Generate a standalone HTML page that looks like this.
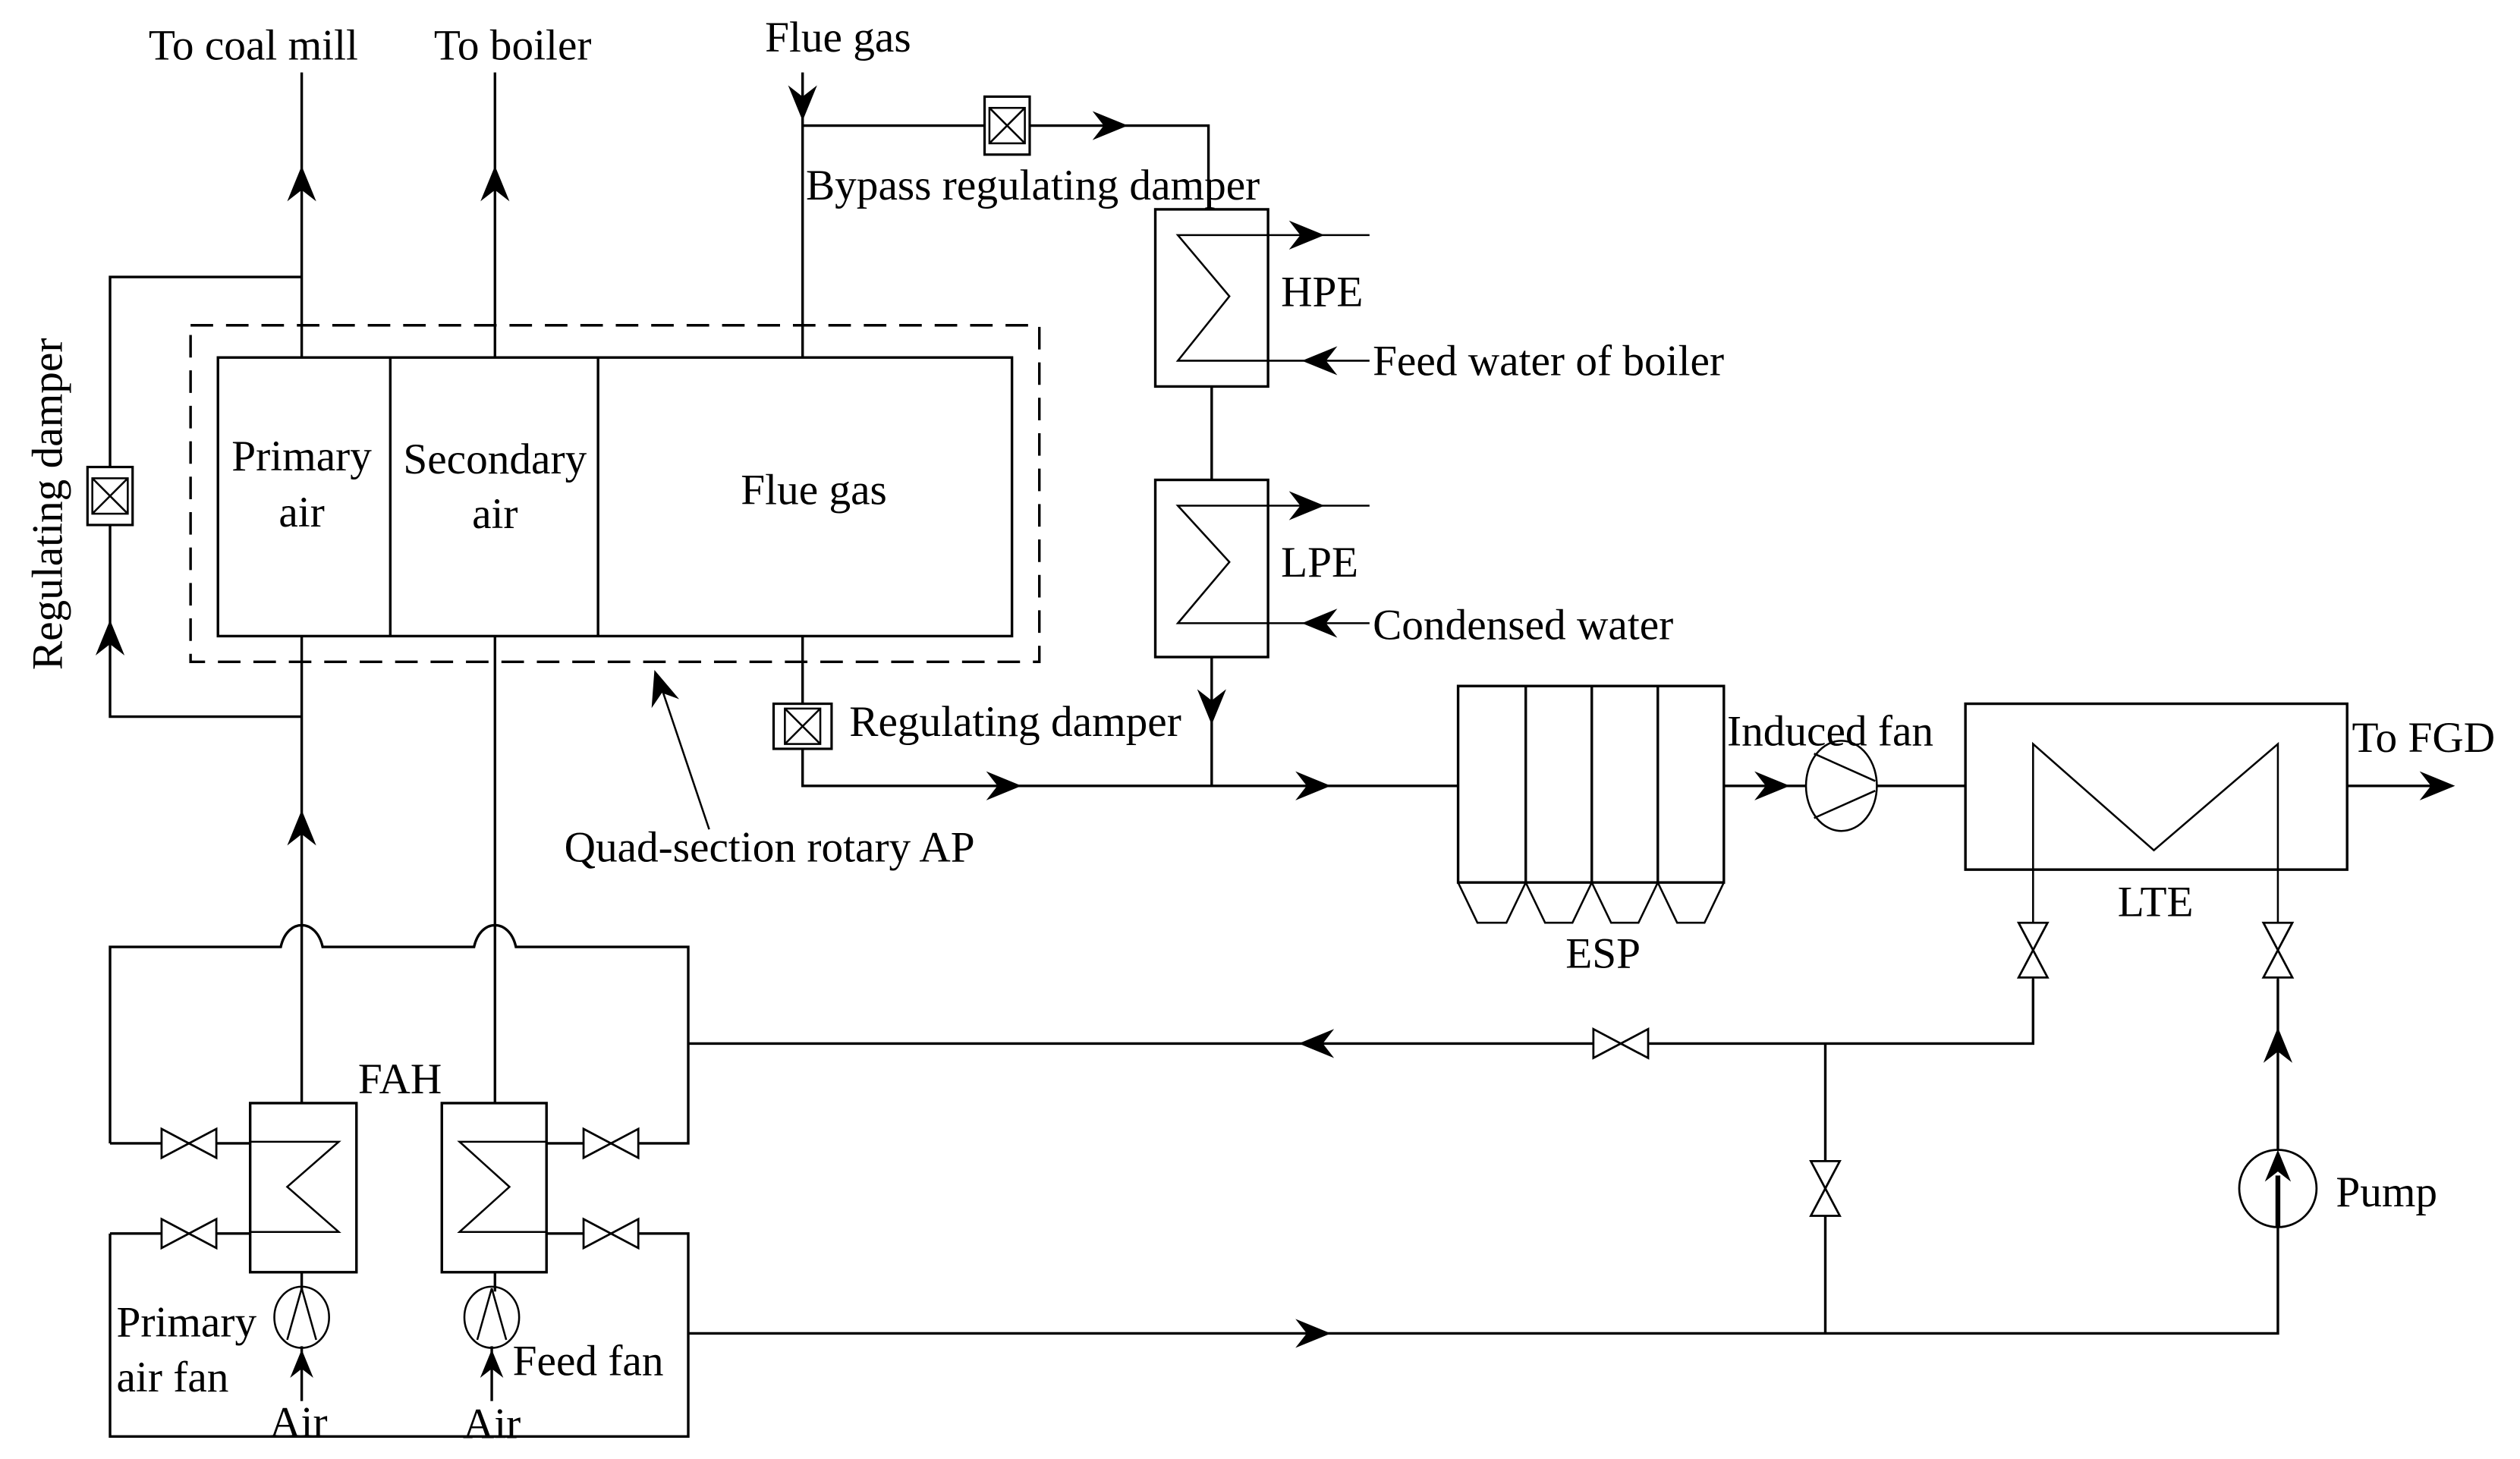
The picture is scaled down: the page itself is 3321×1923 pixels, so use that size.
<!DOCTYPE html>
<html><head><meta charset="utf-8"><style>
html,body{margin:0;padding:0;background:#fff}
svg{display:block}
text{font-family:"Liberation Serif","Times New Roman",serif;font-size:27px;fill:#000}
</style></head><body>
<svg width="3321" height="1923" viewBox="0 0 1564 906" xmlns="http://www.w3.org/2000/svg" font-family="Liberation Serif, serif">
<defs>
<path id="ar" d="M0,0 L-22,-9 L-15,0 L-22,9Z" fill="#000"/>
<path id="vh" d="M-17,-9 L17,9 L17,-9 L-17,9Z" fill="#fff" stroke="#000" stroke-width="1.3"/>
<g id="dmp"><rect x="-18" y="-14" width="36" height="28" fill="#fff" stroke="#000" stroke-width="1.5"/><rect x="-11" y="-11" width="22" height="22" fill="none" stroke="#000" stroke-width="1.2"/><path d="M-11,-11 L11,11 M11,-11 L-11,11" stroke="#000" stroke-width="1.2"/></g>
</defs>
<g fill="none" stroke="#000" stroke-width="1.6">
<path d="M187,45 V222 M307,45 V222 M498,45 V222"/>
<path d="M498,78 H750 V130"/>
<path d="M187,172 H68 V445 H187"/>
<rect x="135" y="222" width="493" height="173"/>
<path d="M242,222 V395 M371,222 V395"/>
<rect x="118" y="202" width="527" height="209" stroke-dasharray="14,8"/>
<rect x="717" y="130" width="70" height="110"/>
<rect x="717" y="298" width="70" height="110"/>
<path d="M752,240 V298 M752,408 V488"/>
<path d="M850,146 H731 L763,184 L731,224 H850" stroke-width="1.2"/>
<path d="M850,314 H731 L763,349 L731,387 H850" stroke-width="1.2"/>
<path d="M187,395 V685 M307,395 V685 M498,395 V488 H905"/>
<path d="M440,515 L408,420" stroke-width="1.2"/>
<rect x="905" y="426" width="165" height="122"/>
<path d="M947,426 V548 M988,426 V548 M1029,426 V548"/>
<path d="M905,548 L917,573 H935 L947,548 L959,573 H976 L988,548 L1000,573 H1017 L1029,548 L1041,573 H1058 L1070,548" stroke-width="1.2"/>
<path d="M1070,488 H1121 M1165,488 H1220"/>
<ellipse cx="1143" cy="488" rx="22" ry="28" stroke-width="1.2"/>
<path d="M1126,468 L1164,485 M1126,508 L1164,491" stroke-width="1.2"/>
<rect x="1220" y="437" width="237" height="103"/>
<path d="M1262,608 V462 L1337,528 L1414,462 V608" stroke-width="1.2"/>
<path d="M1457,488 H1520"/>
<path d="M1262,608 V648 H427 M1133,648 V828 M1414,608 V714 M1414,762 V828 H427"/>
<circle cx="1414" cy="738" r="24" stroke-width="1.3"/>
<path d="M68,710 V588 H174 C178,570 196,570 200,588 H294 C298,570 316,570 320,588 H427 V710 H339"/>
<path d="M68,710 H155 M68,766 V892 H427 V766 H339 M68,766 H155"/>
<rect x="155" y="685" width="66" height="105"/>
<rect x="274" y="685" width="65" height="105"/>
<path d="M155,709 H210 L178,737 L210,765 H155 M339,709 H285 L316,737 L285,765 H339" stroke-width="1.2"/>
<path d="M187,790 V802 M307,790 V802 M187,836 V870 M305,836 V870"/>
<ellipse cx="187" cy="818" rx="17" ry="19" stroke-width="1.2"/>
<path d="M187,800 L178,832 M187,800 L196,832" stroke-width="1.2"/>
<ellipse cx="305" cy="818" rx="17" ry="19" stroke-width="1.2"/>
<path d="M305,800 L296,832 M305,800 L314,832" stroke-width="1.2"/>
<path d="M1414,762 V730" stroke-width="3"/>
</g>
<use href="#ar" transform="translate(1414,714) rotate(-90) scale(0.9)"/>
<use href="#ar" transform="translate(187,103) rotate(-90)"/>
<use href="#ar" transform="translate(307,103) rotate(-90)"/>
<use href="#ar" transform="translate(498,75) rotate(90)"/>
<use href="#ar" transform="translate(700,78)"/>
<use href="#ar" transform="translate(822,146)"/>
<use href="#ar" transform="translate(808,224) rotate(180)"/>
<use href="#ar" transform="translate(822,314)"/>
<use href="#ar" transform="translate(808,387) rotate(180)"/>
<use href="#ar" transform="translate(752,450) rotate(90)"/>
<use href="#ar" transform="translate(68,385) rotate(-90)"/>
<use href="#ar" transform="translate(187,503) rotate(-90)"/>
<use href="#ar" transform="translate(634,488)"/>
<use href="#ar" transform="translate(826,488)"/>
<use href="#ar" transform="translate(1111,488)"/>
<use href="#ar" transform="translate(1524,488)"/>
<use href="#ar" transform="translate(806,648) rotate(180)"/>
<use href="#ar" transform="translate(826,828)"/>
<use href="#ar" transform="translate(1414,638) rotate(-90)"/>
<use href="#ar" transform="translate(187,838) rotate(-90) scale(0.8)"/>
<use href="#ar" transform="translate(305,838) rotate(-90) scale(0.8)"/>
<use href="#ar" transform="translate(406,416) rotate(-108)"/>
<use href="#vh" transform="translate(117,710)"/>
<use href="#vh" transform="translate(117,766)"/>
<use href="#vh" transform="translate(379,710)"/>
<use href="#vh" transform="translate(379,766)"/>
<use href="#vh" transform="translate(1006,648)"/>
<use href="#vh" transform="translate(1133,738) rotate(90)"/>
<use href="#vh" transform="translate(1262,590) rotate(90)"/>
<use href="#vh" transform="translate(1414,590) rotate(90)"/>
<use href="#dmp" transform="translate(625,78) rotate(90)"/>
<use href="#dmp" transform="translate(68,308) rotate(90)"/>
<use href="#dmp" transform="translate(498,451)"/>
<text x="157" y="37" text-anchor="middle">To coal mill</text>
<text x="318" y="37" text-anchor="middle">To boiler</text>
<text x="520" y="32" text-anchor="middle">Flue gas</text>
<text x="500" y="124" font-size="23.5">Bypass regulating damper</text>
<text x="795" y="190">HPE</text>
<text x="852" y="233">Feed water of boiler</text>
<text x="795" y="358">LPE</text>
<text x="852" y="397">Condensed water</text>
<text x="187" y="292" text-anchor="middle">Primary</text>
<text x="187" y="327" text-anchor="middle">air</text>
<text x="307" y="294" text-anchor="middle">Secondary</text>
<text x="307" y="328" text-anchor="middle">air</text>
<text x="505" y="313" text-anchor="middle">Flue gas</text>
<text x="527" y="457" font-size="24">Regulating damper</text>
<text x="350" y="535">Quad-section rotary AP</text>
<text x="38" y="313" text-anchor="middle" font-size="24" transform="rotate(-90 38 313)">Regulating damper</text>
<text x="1072" y="463">Induced fan</text>
<text x="1460" y="467">To FGD</text>
<text x="995" y="601" text-anchor="middle">ESP</text>
<text x="1338" y="569" text-anchor="middle">LTE</text>
<text x="1450" y="749">Pump</text>
<text x="248" y="679" text-anchor="middle">FAH</text>
<text x="72" y="830">Primary</text>
<text x="72" y="864">air fan</text>
<text x="185" y="892" text-anchor="middle">Air</text>
<text x="305" y="893" text-anchor="middle">Air</text>
<text x="318" y="854">Feed fan</text>
</svg>
</body></html>
